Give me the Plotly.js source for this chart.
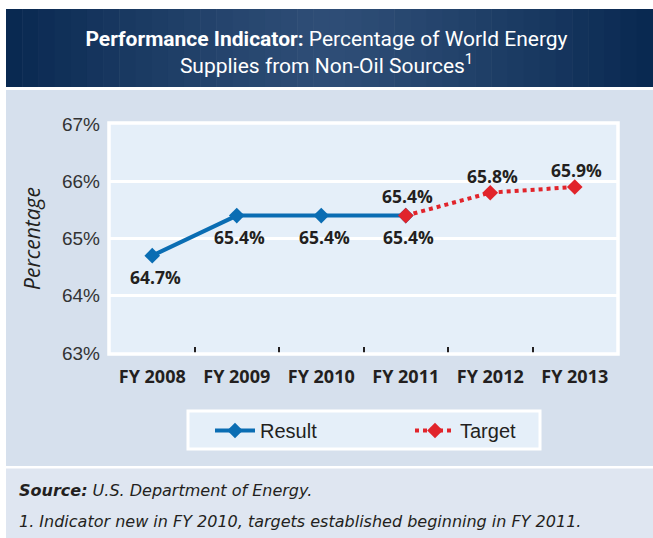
<!DOCTYPE html>
<html>
<head>
<meta charset="utf-8">
<script src="https://cdn.plot.ly/plotly-3.0.1.min.js"></script>
<style>html,body{margin:0;padding:0;background:#fff;}#chart{width:653px;height:538px;}</style>
</head>
<body>
<div id="chart"></div>
<script>
// ---- data ----
const categories = ["FY 2008", "FY 2009", "FY 2010", "FY 2011", "FY 2012", "FY 2013"];
const resultYears = ["FY 2008", "FY 2009", "FY 2010", "FY 2011"];
const resultValues = [64.7, 65.4, 65.4, 65.4];
const targetYears = ["FY 2011", "FY 2012", "FY 2013"];
const targetValues = [65.4, 65.8, 65.9];
const yTicks = [63, 64, 65, 66, 67];
const yTickLabels = ["63%", "64%", "65%", "66%", "67%"];

// ---- layout geometry helpers (pixels -> paper) ----
const W = 653, H = 538;
const L = 110, R = 617, T = 124, B = 353;
const px = x => (x - L) / (R - L);
const py = y => (B - y) / (B - T);

const narrow = "Liberation Sans Narrow, Arial Narrow, sans-serif";
const sans = "Open Sans, Noto Sans, DejaVu Sans, sans-serif";
const wide = "DejaVu Sans, Verdana, sans-serif";

const shapes = [];
// header gradient strips
const hx0 = 6, hx1 = 653, nStrips = 40;
const cC = [46, 77, 118], cE = [8, 40, 80];
for (let i = 0; i < nStrips; i++) {
  const x0 = hx0 + (hx1 - hx0) * i / nStrips;
  const x1 = hx0 + (hx1 - hx0) * (i + 1) / nStrips + 0.6;
  const xm = (x0 + x1) / 2;
  let t = Math.min(1, Math.abs(xm - 330) / 320);
  t = Math.pow(t, 1.3);
  const c = cC.map((v, k) => Math.round(v + (cE[k] - v) * t));
  shapes.push({type: "rect", xref: "paper", yref: "paper", layer: "below",
    x0: px(x0), x1: px(x1), y0: py(87), y1: py(9),
    fillcolor: `rgb(${c[0]},${c[1]},${c[2]})`, line: {width: 0}});
}
// chart panel
shapes.push({type: "rect", xref: "paper", yref: "paper", layer: "below",
  x0: px(6), x1: px(653), y0: py(466), y1: py(90), fillcolor: "#d6e0ed", line: {width: 0}});
// footer panel
shapes.push({type: "rect", xref: "paper", yref: "paper", layer: "below",
  x0: px(6), x1: px(653), y0: py(538), y1: py(468.5), fillcolor: "#dfe6f1", line: {width: 0}});
// plot area
shapes.push({type: "rect", xref: "paper", yref: "paper", layer: "below",
  x0: 0, x1: 1, y0: 0, y1: 1, fillcolor: "#e5eff9", line: {width: 0}});
// plot border (above, hides edge ticks)
shapes.push({type: "rect", xref: "paper", yref: "paper", layer: "above",
  x0: px(L - 1), x1: px(R + 1), y0: py(B + 1), y1: py(T - 1), fillcolor: "rgba(0,0,0,0)", line: {color: "#ffffff", width: 3.5}});
// legend box
shapes.push({type: "rect", xref: "paper", yref: "paper", layer: "below",
  x0: px(188), x1: px(540), y0: py(449), y1: py(411), fillcolor: "#e5eff9", line: {color: "#ffffff", width: 3}});

// data labels
const annotations = [];
const resultShift = [-21, -21, -21, -21];
const targetShift = [20, 17, 17];
resultValues.forEach((v, i) => {
  annotations.push({x: resultYears[i], y: v, xref: "x", yref: "y", text: v.toFixed(1) + "%",
    showarrow: false, yshift: resultShift[i], xshift: 3,
    font: {family: sans, size: 17.5, color: "#231f20", weight: "bold"}});
});
targetValues.forEach((v, i) => {
  annotations.push({x: targetYears[i], y: v, xref: "x", yref: "y", text: v.toFixed(1) + "%",
    showarrow: false, yshift: targetShift[i], xshift: 2,
    font: {family: sans, size: 17.5, color: "#231f20", weight: "bold"}});
});
// footer notes
annotations.push({xref: "paper", yref: "paper", x: px(17), y: py(491), xanchor: "left", yanchor: "middle",
  showarrow: false, align: "left",
  text: "<b><i>Source:</i></b><i> U.S. Department of Energy.</i>",
  font: {family: wide, size: 16, color: "#231f20"}});
annotations.push({xref: "paper", yref: "paper", x: px(17), y: py(521), xanchor: "left", yanchor: "middle",
  showarrow: false, align: "left",
  text: "<i>1. Indicator new in FY 2010, targets established beginning in FY 2011.</i>",
  font: {family: wide, size: 16, color: "#231f20"}});

const traces = [
  {type: "scatter", mode: "lines+markers", name: "Result", x: resultYears, y: resultValues,
   line: {color: "#0a6db3", width: 4}, marker: {symbol: "diamond", size: 12, color: "#0a6db3"}},
  {type: "scatter", mode: "lines+markers", name: "Target", x: targetYears, y: targetValues,
   line: {color: "#e1242b", width: 4, dash: "dot"}, marker: {symbol: "diamond", size: 12, color: "#e1242b"}}
];

const layout = {
  width: W, height: H,
  margin: {l: L, r: W - R, t: T, b: H - B, pad: 0},
  paper_bgcolor: "#ffffff",
  plot_bgcolor: "rgba(0,0,0,0)",
  showlegend: true,
  title: {
    text: "<b>Performance Indicator:</b> Percentage of World Energy<br>Supplies from Non-Oil Sources<sup>1</sup>",
    x: 0.5, xref: "container", xanchor: "center",
    y: 1 - 46 / H, yref: "container", yanchor: "middle",
    font: {family: "Roboto, sans-serif", size: 21, color: "#ffffff"}
  },
  xaxis: {
    type: "category", categoryorder: "array", categoryarray: categories,
    range: [-0.5, categories.length - 0.5],
    showgrid: false, zeroline: false, showline: false,
    ticks: "inside", tickson: "boundaries", ticklen: 6, tickwidth: 2, tickcolor: "#231f20",
    ticklabelstandoff: 11,
    tickfont: {family: sans, size: 18, color: "#231f20", weight: "bold"},
    fixedrange: true
  },
  yaxis: {
    range: [63, 67], tickvals: yTicks, ticktext: yTickLabels,
    showgrid: true, gridcolor: "#ffffff", gridwidth: 3, zeroline: false, showline: false,
    ticks: "", ticklabelstandoff: 9,
    tickfont: {family: narrow, size: 19, color: "#333333"},
    title: {text: "<i>Percentage</i>", standoff: 15, font: {family: sans, size: 21, color: "#231f20"}},
    fixedrange: true
  },
  legend: {
    orientation: "h", x: px(210), y: py(411), xanchor: "left", yanchor: "top",
    bgcolor: "rgba(0,0,0,0)", borderwidth: 0,
    font: {family: narrow, size: 20, color: "#231f20"},
    entrywidth: 145, entrywidthmode: "pixels", itemwidth: 40
  },
  shapes: shapes,
  annotations: annotations
};

Plotly.newPlot("chart", traces, layout, {displayModeBar: false, staticPlot: true});
</script>
</body>
</html>
